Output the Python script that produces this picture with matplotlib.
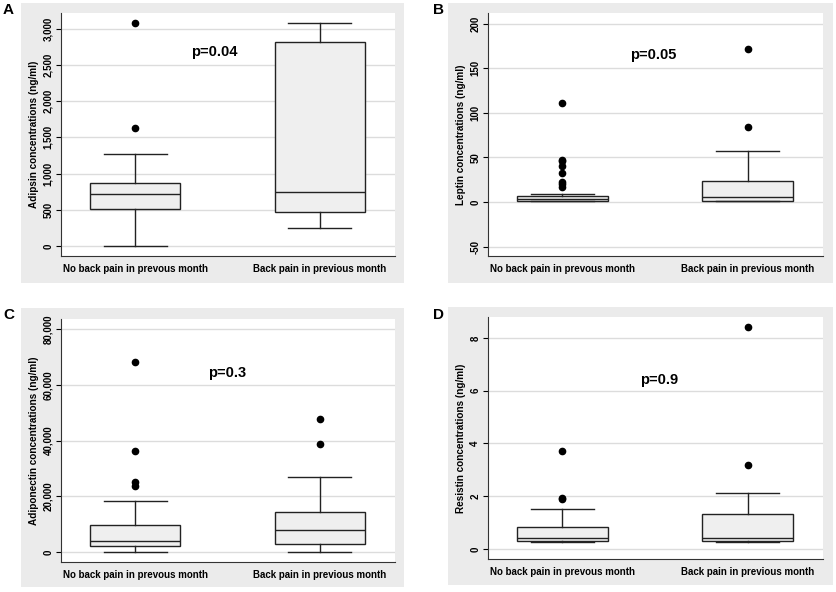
import matplotlib
matplotlib.use('Agg')
import matplotlib.pyplot as plt
from matplotlib.patches import Rectangle
from matplotlib.ticker import FuncFormatter

plt.rcParams['font.family'] = ['Liberation Sans', 'DejaVu Sans']
plt.rcParams['font.weight'] = 'bold'

groups = ['No back pain in prevous month', 'Back pain in previous month']

# box stats: (whislo, q1, med, q3, whishi, outliers)
adipsin = [(0, 512, 719, 866, 1267, [1636, 3078]),
           (253, 475, 742, 2811, 3078, [])]
leptin = [(0.8, 1.5, 3, 7, 8.5, [111, 47.5, 46, 40, 33, 23, 20, 17]),
          (1.5, 1.6, 5.4, 24, 57.6, [171.5, 84])]
adiponectin = [(100, 2156, 3832, 9700, 18323, [68024, 36287, 25030, 23713]),
               (100, 2754, 7784, 14491, 26946, [47545, 38683])]
resistin = [(0.28, 0.30, 0.42, 0.84, 1.51, [3.72, 1.94, 1.89]),
            (0.28, 0.30, 0.40, 1.34, 2.12, [8.41, 3.2])]

ylabels = ['Adipsin concentrations (ng/ml)', 'Leptin concentrations (ng/ml)',
           'Adiponectin concentrations (ng/ml)', 'Resistin concentrations (ng/ml)']
yticks = [[0, 500, 1000, 1500, 2000, 2500, 3000],
          [-50, 0, 50, 100, 150, 200],
          [0, 20000, 40000, 60000, 80000],
          [0, 2, 4, 6, 8]]
ylims = [(-138, 3217), (-60.5, 212), (-3600, 83600), (-0.38, 8.79)]
pvals = ['p=0.04', 'p=0.05', 'p=0.3', 'p=0.9']
ppos = [(1.43, 2680), (1.49, 165), (1.50, 64200), (1.52, 6.4)]
letters = ['A', 'B', 'C', 'D']
datasets = [adipsin, leptin, adiponectin, resistin]

W, H = 836, 592
fig = plt.figure(figsize=(W / 100, H / 100), dpi=100)
fig.patch.set_facecolor('white')

# pixel boxes: gray panel (x0, y0, x1, y1), plot area (x0, y0, x1, y1), letter pos
panels = [((21, 3, 404, 283), (61, 13, 395, 256), (3, 10)),
          ((448, 3, 833, 283), (488, 13, 823, 256), (433, 10)),
          ((21, 308, 404, 587), (61, 319, 395, 562), (3, 315)),
          ((448, 307, 833, 585), (488, 317, 823, 559), (433, 315))]

def fx(px):
    return px / W

def fy(py):
    return 1 - py / H

for i in range(4):
    gbox, pbox, lpos = panels[i]
    # серый фон панели
    fig.patches.append(Rectangle((fx(gbox[0]), fy(gbox[3])), fx(gbox[2] - gbox[0]),
                                 (gbox[3] - gbox[1]) / H, transform=fig.transFigure,
                                 facecolor='#ebebeb', edgecolor='none', zorder=-10))
    ax = fig.add_axes([fx(pbox[0]), fy(pbox[3]), fx(pbox[2] - pbox[0]), (pbox[3] - pbox[1]) / H])
    ax.set_facecolor('white')

    stats = []
    for g, d in zip(groups, datasets[i]):
        stats.append(dict(label=g, whislo=d[0], q1=d[1], med=d[2], q3=d[3],
                          whishi=d[4], fliers=d[5]))
    ax.bxp(stats, positions=[1, 2], widths=0.49, patch_artist=True,
           boxprops=dict(facecolor='#efefef', edgecolor='#222222', linewidth=1.0),
           medianprops=dict(color='#222222', linewidth=1.0),
           whiskerprops=dict(color='#222222', linewidth=1.0),
           capprops=dict(color='#222222', linewidth=1.0),
           capwidths=0.34,
           flierprops=dict(marker='o', markerfacecolor='black', markeredgecolor='black',
                           markersize=4.5, linestyle='none'))

    ax.set_xlim(0.598, 2.407)
    ax.set_ylim(*ylims[i])
    ax.set_yticks(yticks[i])
    ax.yaxis.set_major_formatter(FuncFormatter(lambda v, p: f'{int(v):,}'))
    ax.tick_params(axis='y', labelsize=7, rotation=90, length=3.5, width=0.8, pad=2)
    for lab in ax.get_yticklabels():
        lab.set_va('center')
        lab.set_fontweight('bold')
    ax.tick_params(axis='x', length=0, labelsize=7, pad=6)
    for lab in ax.get_xticklabels():
        lab.set_fontweight('bold')
    ax.set_axisbelow(True)
    ax.yaxis.grid(True, color='#dcdcdc', linewidth=1.0)
    for s in ['top', 'right']:
        ax.spines[s].set_visible(False)
    ax.spines['left'].set_color('#333333')
    ax.spines['bottom'].set_color('#333333')
    ax.set_ylabel(ylabels[i], fontsize=7.2, fontweight='bold', labelpad=3)
    ax.text(ppos[i][0], ppos[i][1], pvals[i], fontsize=10.5, fontweight='bold',
            ha='center', va='center')
    fig.text(fx(lpos[0]), fy(lpos[1]), letters[i], fontsize=11, fontweight='bold',
             ha='left', va='center')

fig.savefig('out.png', dpi=100)
